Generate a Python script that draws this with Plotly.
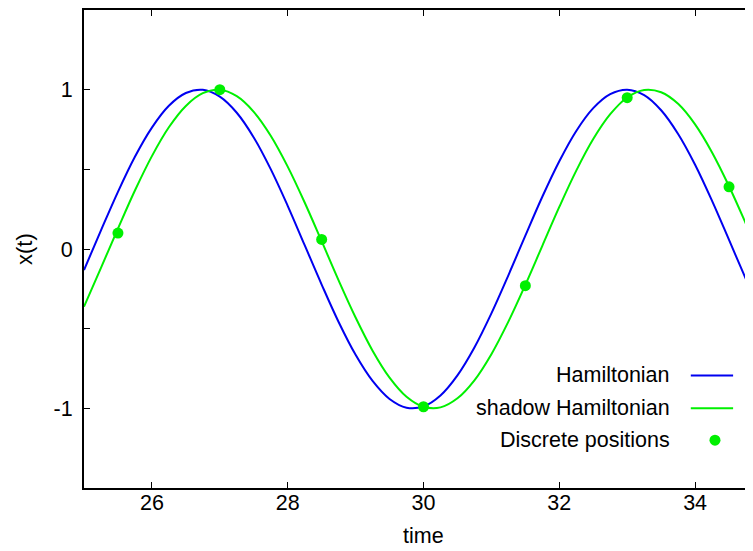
import plotly.graph_objects as go

# ---- data ----
time = [25.00, 25.25, 25.50, 25.75, 26.00, 26.25, 26.50, 26.75, 27.00, 27.25,
        27.50, 27.75, 28.00, 28.25, 28.50, 28.75, 29.00, 29.25, 29.50, 29.75,
        30.00, 30.25, 30.50, 30.75, 31.00, 31.25, 31.50, 31.75, 32.00, 32.25,
        32.50, 32.75, 33.00, 33.25, 33.50, 33.75, 34.00, 34.25, 34.50, 34.75,
        35.00]
hamiltonian = [-0.132, 0.117, 0.359, 0.579, 0.762, 0.899, 0.979, 0.999, 0.956, 0.855,
               0.700, 0.501, 0.271, 0.024, -0.223, -0.458, -0.664, -0.828, -0.941, -0.996,
               -0.988, -0.919, -0.793, -0.618, -0.404, -0.165, 0.084, 0.328, 0.551, 0.741,
               0.884, 0.972, 1.000, 0.966, 0.871, 0.722, 0.529, 0.302, 0.057, -0.191,
               -0.429]
shadow = [-0.362, -0.118, 0.128, 0.367, 0.583, 0.764, 0.898, 0.978, 0.999, 0.959,
          0.861, 0.711, 0.517, 0.292, 0.049, -0.197, -0.430, -0.638, -0.807, -0.927,
          -0.990, -0.994, -0.937, -0.824, -0.660, -0.456, -0.225, 0.020, 0.264, 0.492,
          0.690, 0.846, 0.951, 0.998, 0.984, 0.911, 0.782, 0.606, 0.394, 0.157,
          -0.089]
disc_t = [25.5, 27.0, 28.5, 30.0, 31.5, 33.0, 34.5]
disc_x = [0.10, 1.00, 0.06, -0.99, -0.23, 0.95, 0.39]

x_ticks = [26, 28, 30, 32, 34]
y_ticks = [-1, -0.5, 0, 0.5, 1]
y_ticktext = ["-1", "", "0", "", "1"]

legend_names = ["Hamiltonian", "shadow Hamiltonian", "Discrete positions"]

BLUE = "#0000f0"
GREEN = "#00f000"
FONT = "Liberation Sans, Arial, sans-serif"

fig = go.Figure()
fig.add_trace(go.Scatter(x=time, y=hamiltonian, mode="lines",
                         line=dict(color=BLUE, width=2, shape="spline", smoothing=1),
                         name=legend_names[0], showlegend=False))
fig.add_trace(go.Scatter(x=time, y=shadow, mode="lines",
                         line=dict(color=GREEN, width=2, shape="spline", smoothing=1),
                         name=legend_names[1], showlegend=False))
fig.add_trace(go.Scatter(x=disc_t, y=disc_x, mode="markers",
                         marker=dict(color=GREEN, size=11),
                         name=legend_names[2], showlegend=False, cliponaxis=False))

# gnuplot-style legend: text right-aligned, sample on the right
leg_y = [0.2354, 0.1667, 0.100]
for name, yy in zip(legend_names, leg_y):
    fig.add_annotation(xref="paper", yref="paper", x=0.8896, y=yy, text=name,
                       showarrow=False, xanchor="right", yanchor="middle",
                       font=dict(size=21.5, color="black", family=FONT))
fig.add_shape(type="line", xref="paper", yref="paper", x0=0.918, x1=0.982,
              y0=leg_y[0], y1=leg_y[0], line=dict(color=BLUE, width=2))
fig.add_shape(type="line", xref="paper", yref="paper", x0=0.918, x1=0.982,
              y0=leg_y[1], y1=leg_y[1], line=dict(color=GREEN, width=2))
fig.add_shape(type="circle", xref="paper", yref="paper",
              xsizemode="pixel", ysizemode="pixel", xanchor=0.9546, yanchor=leg_y[2],
              x0=-5.5, x1=5.5, y0=-5.5, y1=5.5,
              fillcolor=GREEN, line=dict(color=GREEN, width=0))

# axis titles
fig.add_annotation(xref="x", yref="paper", x=30, y=0, yshift=-48, text="time",
                   showarrow=False, xanchor="center", yanchor="middle",
                   font=dict(size=21.5, color="black", family=FONT))
fig.add_annotation(xref="paper", yref="paper", x=0, xshift=-60, y=0.5, text="x(t)",
                   showarrow=False, textangle=-90, xanchor="center", yanchor="middle",
                   font=dict(size=22, color="black", family=FONT))

fig.update_layout(
    width=737, height=543,
    margin=dict(l=76, r=0, t=0, b=63),
    paper_bgcolor="white", plot_bgcolor="white",
    font=dict(family=FONT, size=21.5, color="black"),
    showlegend=False,
)
fig.update_xaxes(range=[25, 34.735], tickvals=x_ticks, ticks="inside", ticklen=6,
                 tickwidth=1, tickcolor="black", showline=True, linecolor="black",
                 linewidth=2, mirror="ticks", showgrid=False, zeroline=False,
                 tickfont=dict(size=21.5, family=FONT), ticklabelstandoff=-6)
fig.update_yaxes(range=[-1.5, 1.5], tickvals=y_ticks, ticktext=y_ticktext,
                 ticks="inside", ticklen=6, tickwidth=1, tickcolor="black",
                 showline=True, linecolor="black", linewidth=2, mirror=False,
                 showgrid=False, zeroline=False,
                 tickfont=dict(size=21.5, family=FONT), ticklabelstandoff=5)

fig.write_html("out.html")
